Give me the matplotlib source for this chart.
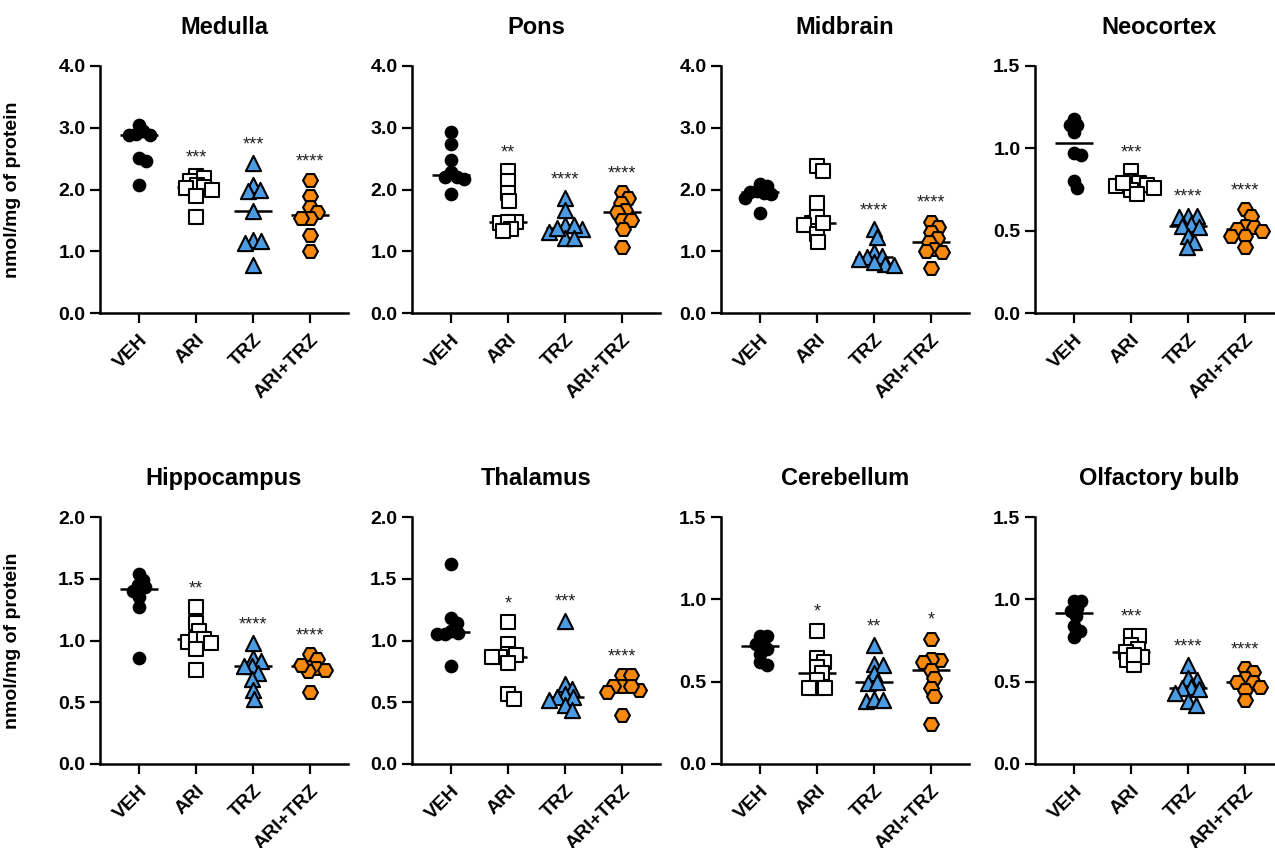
import numpy as np
import matplotlib
matplotlib.use("Agg")
import matplotlib.pyplot as plt

plt.rcParams['font.family'] = ['Liberation Sans', 'DejaVu Sans']

# regions and groups
regions = ['Medulla', 'Pons', 'Midbrain', 'Neocortex',
           'Hippocampus', 'Thalamus', 'Cerebellum', 'Olfactory bulb']
groups = ['VEH', 'ARI', 'TRZ', 'ARI+TRZ']
y_max = [4.0, 4.0, 4.0, 1.5, 2.0, 2.0, 1.5, 1.5]
y_step = [1.0, 1.0, 1.0, 0.5, 0.5, 0.5, 0.5, 0.5]

# values (nmol/mg of protein), one list per region
veh = [
    [2.95, 3.05, 2.89, 2.89, 2.90, 2.51, 2.46, 2.08],
    [2.93, 2.73, 2.48, 2.28, 2.20, 2.20, 2.17, 1.92],
    [2.09, 2.06, 1.98, 1.93, 1.87, 1.96, 1.95, 1.62],
    [1.14, 1.18, 1.14, 1.10, 0.96, 0.97, 0.80, 0.76],
    [1.49, 1.54, 1.45, 1.40, 1.43, 1.35, 1.27, 0.86],
    [1.62, 1.18, 1.14, 1.08, 1.05, 1.06, 1.05, 0.79],
    [0.74, 0.78, 0.78, 0.73, 0.70, 0.67, 0.60, 0.62],
    [0.99, 0.99, 0.93, 0.95, 0.90, 0.84, 0.81, 0.77],
]
ari = [
    [2.22, 2.19, 2.14, 2.08, 2.04, 2.02, 2.00, 1.90, 1.55],
    [2.30, 2.13, 1.95, 1.82, 1.47, 1.46, 1.48, 1.36, 1.32],
    [2.38, 2.30, 1.78, 1.45, 1.55, 1.42, 1.28, 1.15, 1.46],
    [0.86, 0.80, 0.79, 0.78, 0.77, 0.76, 0.75, 0.72, 0.79],
    [1.27, 1.14, 1.08, 0.99, 1.01, 1.01, 0.98, 0.93, 0.76],
    [1.15, 0.97, 0.89, 0.87, 0.88, 0.87, 0.82, 0.57, 0.53],
    [0.81, 0.645, 0.62, 0.59, 0.55, 0.51, 0.46, 0.46, 0.46],
    [0.78, 0.78, 0.72, 0.70, 0.68, 0.65, 0.63, 0.60, 0.66],
]
trz = [
    [2.43, 2.08, 1.97, 2.00, 1.65, 1.19, 1.14, 1.16, 0.78],
    [1.86, 1.66, 1.42, 1.36, 1.42, 1.22, 1.31, 1.37, 1.22],
    [1.36, 1.23, 0.99, 0.93, 0.90, 0.80, 0.82, 0.77, 0.88],
    [0.59, 0.58, 0.59, 0.54, 0.53, 0.52, 0.47, 0.43, 0.40],
    [0.98, 0.86, 0.83, 0.79, 0.79, 0.74, 0.69, 0.60, 0.53],
    [1.16, 0.65, 0.61, 0.57, 0.54, 0.54, 0.52, 0.48, 0.44],
    [0.72, 0.61, 0.60, 0.55, 0.49, 0.50, 0.38, 0.395, 0.39],
    [0.60, 0.51, 0.52, 0.47, 0.46, 0.455, 0.43, 0.38, 0.36],
]
ari_trz = [
    [2.15, 1.89, 1.72, 1.63, 1.54, 1.54, 1.27, 1.00],
    [1.96, 1.86, 1.78, 1.66, 1.63, 1.50, 1.50, 1.36, 1.07],
    [1.48, 1.39, 1.31, 1.21, 1.15, 1.04, 1.01, 0.99, 0.73],
    [0.63, 0.59, 0.53, 0.52, 0.51, 0.50, 0.47, 0.47, 0.40],
    [0.82, 0.89, 0.85, 0.78, 0.76, 0.75, 0.58, 0.80],
    [0.72, 0.72, 0.63, 0.60, 0.63, 0.63, 0.58, 0.40],
    [0.76, 0.63, 0.64, 0.62, 0.57, 0.52, 0.46, 0.41, 0.24],
    [0.58, 0.56, 0.52, 0.50, 0.50, 0.47, 0.45, 0.39],
]
stars = [
    ['', '***', '***', '****'],
    ['', '**', '****', '****'],
    ['', '', '****', '****'],
    ['', '***', '****', '****'],
    ['', '**', '****', '****'],
    ['', '*', '***', '****'],
    ['', '*', '**', '*'],
    ['', '***', '****', '****'],
]

# marker styles per group
markers = ['o', 's', '^', 'H']
faces = ['black', 'white', '#4b9be3', '#f7890f']
sizes = [70, 90, 120, 115]
diam_px = [12, 13, 14, 14]

DPI = 100
fig = plt.figure(figsize=(12.75, 8.48), dpi=DPI)

lefts = [100, 412, 721, 1035]
bottoms = [313, 764]
ax_w, ax_h = 248, 247
xmin = -0.684
xmax = xmin + ax_w / 57.0


def swarm(vals, ymax, d):
    # simple beeswarm in pixel space; returns x offsets in group units
    ypx = np.asarray(vals) * ax_h / ymax
    order = np.argsort(-ypx)
    xs = np.zeros(len(vals))
    placed = []
    dd = d * 0.62
    for i in order:
        y = ypx[i]
        cands = [0.0]
        for (xj, yj) in placed:
            dy = abs(y - yj)
            if dy < dd:
                dx = np.sqrt(dd ** 2 - dy ** 2)
                cands += [xj + dx, xj - dx]
        cands.sort(key=lambda c: (abs(c), -c))
        for c in cands:
            ok = all((c - xj) ** 2 + (y - yj) ** 2 >= dd ** 2 - 1e-6
                     for (xj, yj) in placed)
            if ok:
                xs[i] = c
                placed.append((c, y))
                break
    return xs / 57.0


all_groups = [veh, ari, trz, ari_trz]

for k, name in enumerate(regions):
    row, col = divmod(k, 4)
    ax = fig.add_axes([lefts[col] / 1275, 1 - bottoms[row] / 848,
                       ax_w / 1275, ax_h / 848])
    ymax = y_max[k]
    for g in range(4):
        vals = np.array(all_groups[g][k])
        xo = swarm(vals, ymax, diam_px[g])
        med = np.median(vals)
        ax.plot([g - 0.33, g + 0.33], [med, med], color='black', lw=1.8,
                zorder=2, solid_capstyle='butt')
        ax.scatter(g + xo, vals, marker=markers[g], s=sizes[g],
                   facecolor=faces[g], edgecolor='black', linewidths=1.5,
                   zorder=3, clip_on=False)
        if stars[k][g]:
            ax.annotate(stars[k][g], xy=(g, vals.max()), xytext=(0, 10),
                        textcoords='offset points', ha='center',
                        va='baseline', fontsize=13, color='#222222')

    ax.set_xlim(xmin, xmax)
    ax.set_ylim(0, ymax)
    ticks = np.arange(0, ymax + 1e-9, y_step[k])
    ax.set_yticks(ticks)
    ax.set_yticklabels(['%.1f' % t for t in ticks],
                       fontsize=14, fontweight='bold')
    ax.set_xticks(range(4))
    ax.set_xticklabels(groups, rotation=45, ha='right',
                       rotation_mode='anchor', fontsize=14,
                       fontweight='bold')
    for s in ['top', 'right']:
        ax.spines[s].set_visible(False)
    for s in ['left', 'bottom']:
        ax.spines[s].set_linewidth(1.8)
    ax.tick_params(axis='both', width=1.6, length=7, color='black')
    ax.tick_params(axis='x', pad=6)
    ax.set_title(name, fontsize=17, fontweight='bold', pad=23)
    if col == 0:
        ax.set_ylabel('nmol/mg of protein', fontsize=14, fontweight='bold')
        ax.yaxis.set_label_coords(-0.32, 0.5)

fig.savefig('out.png', dpi=DPI)
